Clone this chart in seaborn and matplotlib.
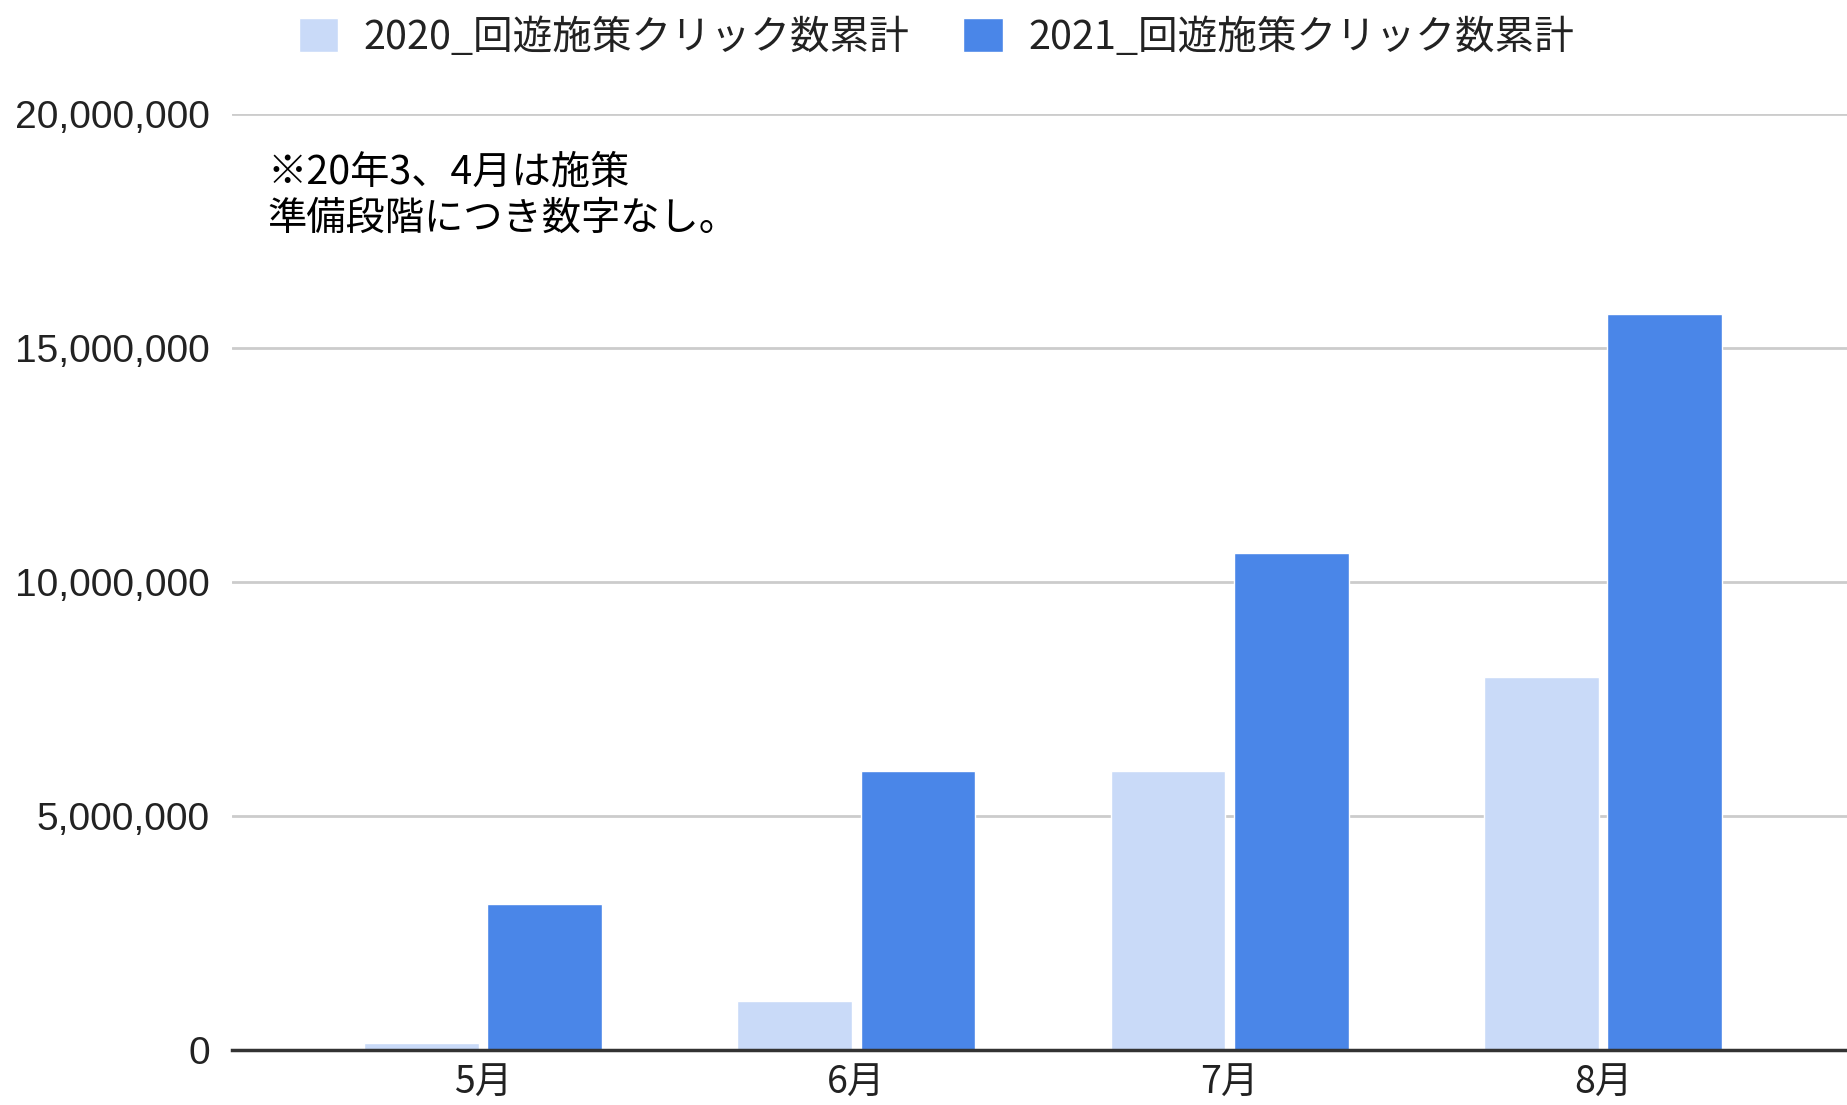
import pandas as pd
import matplotlib.pyplot as plt
import seaborn as sns
from matplotlib.ticker import FuncFormatter

# data
months = ['5月', '6月', '7月', '8月']
series_names = ['2020_回遊施策クリック数累計', '2021_回遊施策クリック数累計']
clicks_2020 = [150000, 1050000, 5950000, 7960000]
clicks_2021 = [3120000, 5950000, 10630000, 15740000]
y_ticks = [0, 5000000, 10000000, 15000000, 20000000]
note_text = '※20年3、4月は施策\n準備段階につき数字なし。'

df = pd.DataFrame({
    'month': months * 2,
    'clicks': clicks_2020 + clicks_2021,
    'series': [series_names[0]] * 4 + [series_names[1]] * 4,
})

sns.set_style('white')
plt.rcParams['font.family'] = ['Noto Sans CJK JP', 'DejaVu Sans']

fig = plt.figure(figsize=(18.47, 11.05), dpi=100)
ax = fig.add_axes([0.1256, 0.05, 0.8744, 0.8466])

sns.barplot(data=df, x='month', y='clicks', hue='series',
            palette=['#c9daf8', '#4a86e8'], width=0.66, gap=0.07,
            saturation=1, ax=ax, zorder=3)

ax.set_ylim(0, 20000000)
ax.set_xlim(-0.672, 3.653)
ax.set_yticks(y_ticks)
ax.yaxis.set_major_formatter(FuncFormatter(lambda v, p: f'{int(v):,}'))
ax.grid(axis='y', color='#cccccc', linewidth=2, zorder=0)
ax.set_xlabel('')
ax.set_ylabel('')
for s in ['top', 'right', 'left']:
    ax.spines[s].set_visible(False)
ax.spines['bottom'].set_color('#333333')
ax.spines['bottom'].set_linewidth(2.5)
ax.spines['bottom'].set_zorder(4)

ax.tick_params(axis='y', length=0, pad=16, labelsize=28, labelcolor='#222222')
ax.tick_params(axis='x', length=0, pad=10, labelsize=27, labelcolor='#222222')
for lbl in ax.get_yticklabels():
    lbl.set_family(['Liberation Sans', 'DejaVu Sans'])

handles, labels = ax.get_legend_handles_labels()
ax.get_legend().remove()
fig.legend(handles, labels, loc='center', bbox_to_anchor=(0.507, 0.966),
           ncol=2, frameon=False, fontsize=28.5, handlelength=1.0,
           handleheight=0.95, handletextpad=0.65, columnspacing=1.35,
           labelcolor='#222222')

fig.text(0.145, 0.862, note_text, fontsize=28.3, va='top', ha='left',
         color='#000000', linespacing=1.2)

fig.savefig('out.png', dpi=100)
